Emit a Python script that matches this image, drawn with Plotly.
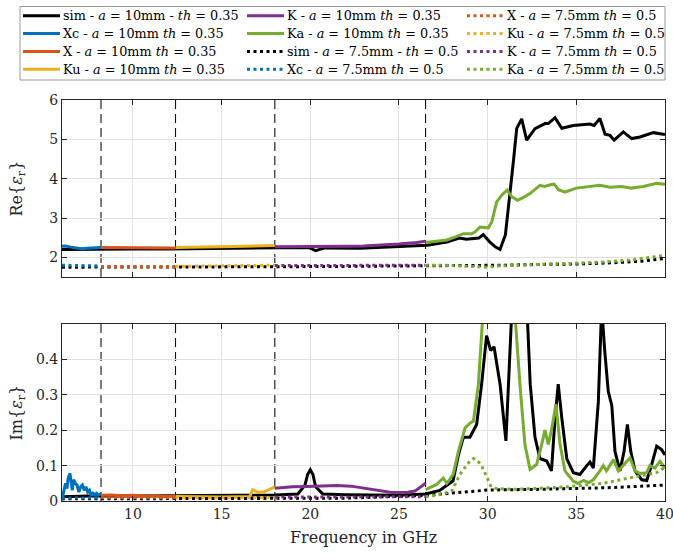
import plotly.graph_objects as go

# ---------------------------------------------------------------------------
# Measured permittivity per waveguide band (a = 10mm, th = 0.35) and the
# simulated reference, plus the a = 7.5mm / th = 0.5 sample (dotted).
# ---------------------------------------------------------------------------

# Band edges in GHz (Xc | X | Ku | K | Ka)
band_edges = [8.2, 12.4, 18.0, 26.5]

# --- simulation, a = 10mm, th = 0.35 ---------------------------------------
sim_re_f = [6.0, 8.0, 10.0, 12.0, 14.0, 16.0, 18.0, 19.5, 19.9, 20.3, 20.8, 22.8, 25.0,
            26.6, 27.7, 28.4, 28.8, 29.5, 29.75, 30.1, 30.45, 30.7, 31.0, 31.26, 31.45,
            31.64, 31.92, 32.2, 32.67, 33.23, 33.42, 33.8, 34.18, 34.83, 35.77, 36.0,
            36.33, 36.62, 36.9, 37.13, 37.65, 38.12, 38.59, 39.34, 40.0]
sim_re = [2.20, 2.21, 2.21, 2.21, 2.22, 2.23, 2.24, 2.25, 2.25, 2.17, 2.24, 2.23, 2.27,
          2.31, 2.39, 2.49, 2.46, 2.49, 2.58, 2.40, 2.26, 2.20, 2.57, 3.58, 4.43,
          5.28, 5.52, 4.98, 5.27, 5.40, 5.40, 5.55, 5.28, 5.35, 5.39, 5.35,
          5.53, 5.13, 5.10, 4.98, 5.19, 5.02, 5.06, 5.17, 5.12]
sim_im_f = [6.0, 7.0, 8.0, 10.0, 12.0, 14.0, 16.0, 18.0, 19.3, 19.7, 19.85, 20.0, 20.15,
            20.3, 20.7, 22.0, 24.0, 25.0, 26.5, 27.3, 28.05, 28.35, 28.63, 29.0, 29.38,
            29.66, 29.94, 30.17, 30.36, 30.7, 31.03, 31.26, 31.6, 32.0, 32.4, 32.67,
            32.95, 33.33, 33.6, 33.8, 33.98, 34.18, 34.46, 34.83, 35.2, 35.59, 35.77,
            35.96, 36.24, 36.43, 36.6, 36.8, 37.0, 37.18, 37.46, 37.69, 37.88, 38.07,
            38.31, 38.69, 38.97, 39.25, 39.53, 39.81, 40.0]
sim_im = [0.012, 0.014, 0.015, 0.014, 0.014, 0.015, 0.016, 0.017, 0.020, 0.045, 0.075,
          0.088, 0.075, 0.040, 0.020, 0.018, 0.016, 0.016, 0.020, 0.030, 0.057, 0.130,
          0.180, 0.180, 0.216, 0.330, 0.467, 0.425, 0.436, 0.330, 0.170, 0.420, 0.800,
          0.800, 0.330, 0.180, 0.120, 0.113, 0.085, 0.235, 0.330, 0.235, 0.120, 0.080,
          0.075, 0.100, 0.110, 0.093, 0.280, 0.550, 0.425, 0.310, 0.270, 0.140, 0.085,
          0.140, 0.216, 0.140, 0.085, 0.060, 0.058, 0.103, 0.155, 0.145, 0.130]

# --- Xc band, a = 10mm ------------------------------------------------------
xc_re_f = [6.0, 6.2, 6.5, 6.8, 7.1, 7.4, 7.7, 8.0, 8.2]
xc_re = [2.28, 2.29, 2.26, 2.24, 2.22, 2.23, 2.24, 2.25, 2.25]
xc_im_f = [6.0, 6.1, 6.2, 6.28, 6.35, 6.45, 6.52, 6.58, 6.65, 6.75, 6.85, 6.95, 7.05,
           7.15, 7.25, 7.35, 7.45, 7.55, 7.65, 7.75, 7.85, 7.95, 8.05, 8.2]
xc_im = [0.005, 0.030, 0.050, 0.035, 0.065, 0.078, 0.055, 0.030, 0.060, 0.050, 0.045,
         0.025, 0.040, 0.045, 0.030, 0.040, 0.025, 0.030, 0.015, 0.022, 0.018, 0.022,
         0.017, 0.020]

# --- X band, a = 10mm -------------------------------------------------------
x_re_f = [8.2, 9.0, 10.0, 11.0, 12.0, 12.4]
x_re = [2.25, 2.25, 2.24, 2.24, 2.24, 2.24]
x_im_f = [8.2, 8.8, 9.4, 10.0, 10.6, 11.2, 11.8, 12.4]
x_im = [0.016, 0.017, 0.015, 0.016, 0.014, 0.015, 0.013, 0.014]

# --- Ku band, a = 10mm ------------------------------------------------------
ku_re_f = [12.4, 13.0, 14.0, 15.0, 16.0, 17.0, 17.5, 18.0]
ku_re = [2.25, 2.25, 2.26, 2.27, 2.28, 2.29, 2.30, 2.30]
ku_im_f = [12.4, 13.0, 14.0, 15.0, 16.0, 16.6, 16.75, 16.9, 17.1, 17.4, 17.7, 18.0]
ku_im = [0.013, 0.012, 0.012, 0.011, 0.012, 0.013, 0.032, 0.028, 0.024, 0.026, 0.032, 0.040]

# --- K band, a = 10mm -------------------------------------------------------
k_re_f = [18.0, 20.0, 22.0, 23.0, 24.0, 25.0, 26.0, 26.5]
k_re = [2.27, 2.27, 2.28, 2.29, 2.31, 2.34, 2.38, 2.41]
k_im_f = [18.0, 18.5, 19.0, 19.8, 20.5, 21.5, 22.3, 22.8, 23.5, 24.0, 24.5, 25.0, 25.5,
          25.9, 26.2, 26.5]
k_im = [0.036, 0.038, 0.040, 0.041, 0.043, 0.044, 0.042, 0.038, 0.032, 0.027, 0.025,
        0.024, 0.025, 0.028, 0.038, 0.050]

# --- Ka band, a = 10mm ------------------------------------------------------
ka_re_f = [26.5, 27.0, 27.7, 28.2, 28.63, 29.1, 29.3, 29.57, 30.04, 30.23, 30.51, 30.79,
           31.1, 31.36, 31.68, 32.0, 32.39, 32.95, 33.2, 33.6, 33.75, 34.0, 34.36, 35.0,
           35.77, 36.33, 36.9, 37.56, 38.1, 38.78, 39.53, 40.0]
ka_re = [2.38, 2.40, 2.44, 2.52, 2.60, 2.60, 2.65, 2.77, 2.75, 2.90, 3.41, 3.58,
         3.71, 3.54, 3.45, 3.52, 3.62, 3.83, 3.80, 3.85, 3.86, 3.72, 3.66, 3.76,
         3.80, 3.83, 3.78, 3.80, 3.76, 3.80, 3.88, 3.86]
ka_im_f = [26.5, 27.1, 27.5, 27.7, 28.06, 28.35, 28.73, 29.0, 29.2, 29.48, 29.76, 30.2,
           31.0, 31.55, 31.82, 32.1, 32.39, 32.76, 33.05, 33.23, 33.42, 33.6, 33.85,
           34.08, 34.36, 34.83, 35.1, 35.4, 35.7, 35.96, 36.33, 36.52, 36.7, 37.1, 37.37,
           37.65, 38.03, 38.31, 38.59, 38.97, 39.15, 39.43, 39.72, 40.0]
ka_im = [0.032, 0.046, 0.065, 0.050, 0.075, 0.140, 0.207, 0.220, 0.226, 0.330, 0.550,
         1.000, 1.000, 0.520, 0.330, 0.160, 0.089, 0.103, 0.160, 0.200, 0.160, 0.200,
         0.273, 0.160, 0.085, 0.056, 0.050, 0.058, 0.052, 0.060, 0.085, 0.100, 0.085,
         0.117, 0.085, 0.100, 0.122, 0.085, 0.078, 0.080, 0.100, 0.093, 0.112, 0.093]

# --- a = 7.5mm, th = 0.5 (dotted) ------------------------------------------
sim2_re_f = [6.0, 10.0, 14.0, 18.0, 22.0, 26.5, 29.0, 31.0, 33.0, 35.0, 37.0, 38.6, 40.0]
sim2_re = [1.75, 1.75, 1.76, 1.76, 1.77, 1.78, 1.79, 1.80, 1.82, 1.83, 1.86, 1.90, 1.97]
sim2_im_f = [6.0, 10.0, 14.0, 18.0, 22.0, 26.5, 28.0, 29.5, 30.0, 33.0, 35.0, 37.0, 40.0]
sim2_im = [0.006, 0.006, 0.007, 0.007, 0.008, 0.016, 0.022, 0.030, 0.031, 0.033, 0.035,
           0.038, 0.045]

xc2_re_f = [6.0, 6.6, 7.2, 7.8, 8.2]
xc2_re = [1.80, 1.79, 1.78, 1.78, 1.78]
xc2_im_f = [6.0, 6.6, 7.2, 7.8, 8.2]
xc2_im = [0.008, 0.009, 0.008, 0.009, 0.008]

x2_re_f = [8.2, 9.5, 11.0, 12.4]
x2_re = [1.76, 1.76, 1.76, 1.76]
x2_im_f = [8.2, 9.5, 11.0, 12.4]
x2_im = [0.009, 0.009, 0.009, 0.009]

ku2_re_f = [12.4, 14.0, 16.0, 18.0]
ku2_re = [1.77, 1.78, 1.79, 1.80]
ku2_im_f = [12.4, 14.0, 16.0, 18.0]
ku2_im = [0.009, 0.009, 0.010, 0.010]

k2_re_f = [18.0, 20.0, 22.0, 24.0, 26.5]
k2_re = [1.79, 1.79, 1.79, 1.79, 1.80]
k2_im_f = [18.0, 20.0, 22.0, 24.0, 26.5]
k2_im = [0.011, 0.011, 0.012, 0.011, 0.012]

ka2_re_f = [26.5, 27.5, 28.5, 29.5, 30.0, 30.5, 31.5, 33.0, 35.0, 36.5, 38.0, 39.0, 40.0]
ka2_re = [1.80, 1.80, 1.78, 1.76, 1.75, 1.78, 1.80, 1.82, 1.85, 1.88, 1.93, 1.99, 2.05]
ka2_im_f = [26.5, 27.5, 28.0, 28.44, 28.8, 29.0, 29.2, 29.45, 29.66, 30.0, 30.2, 30.5,
            31.5, 32.5, 33.5, 34.5, 35.5, 36.5, 37.5, 38.5, 39.5, 40.0]
ka2_im = [0.012, 0.020, 0.030, 0.075, 0.100, 0.113, 0.120, 0.112, 0.100, 0.065, 0.040,
          0.035, 0.033, 0.035, 0.037, 0.040, 0.045, 0.050, 0.060, 0.070, 0.080, 0.095]

# Axis ticks
x_ticks = [10, 15, 20, 25, 30, 35, 40]
re_ticks = [2, 3, 4, 5, 6]
im_ticks = [0, 0.1, 0.2, 0.3, 0.4]
im_tick_text = ["0", "0.1", "0.2", "0.3", "0.4"]

# ---------------------------------------------------------------------------
FONT = "DejaVu Serif"
C_SIM, C_XC, C_X, C_KU, C_K, C_KA = "#000000", "#0072BD", "#D95319", "#EDB120", "#7E2F8E", "#77AC30"
DOT = "3px,3.5px"

SOLID_LBL = "{b} - <i>a</i> = 10mm <i>th</i> = 0.35"
DOT_LBL = "{b} - <i>a</i> = 7.5mm <i>th</i> = 0.5"

# name, colour, dash, re_f, re, im_f, im, (legend column, legend row)
series = [
    ("sim - <i>a</i> = 10mm - <i>th</i> = 0.35", C_SIM, "solid", sim_re_f, sim_re, sim_im_f, sim_im, (0, 0)),
    (SOLID_LBL.format(b="Xc"), C_XC, "solid", xc_re_f, xc_re, xc_im_f, xc_im, (0, 1)),
    (SOLID_LBL.format(b="X"), C_X, "solid", x_re_f, x_re, x_im_f, x_im, (0, 2)),
    (SOLID_LBL.format(b="Ku"), C_KU, "solid", ku_re_f, ku_re, ku_im_f, ku_im, (0, 3)),
    (SOLID_LBL.format(b="K"), C_K, "solid", k_re_f, k_re, k_im_f, k_im, (1, 0)),
    (SOLID_LBL.format(b="Ka"), C_KA, "solid", ka_re_f, ka_re, ka_im_f, ka_im, (1, 1)),
    ("sim - <i>a</i> = 7.5mm - <i>th</i> = 0.5", C_SIM, DOT, sim2_re_f, sim2_re, sim2_im_f, sim2_im, (1, 2)),
    (DOT_LBL.format(b="Xc"), C_XC, DOT, xc2_re_f, xc2_re, xc2_im_f, xc2_im, (1, 3)),
    (DOT_LBL.format(b="X"), C_X, DOT, x2_re_f, x2_re, x2_im_f, x2_im, (2, 0)),
    (DOT_LBL.format(b="Ku"), C_KU, DOT, ku2_re_f, ku2_re, ku2_im_f, ku2_im, (2, 1)),
    (DOT_LBL.format(b="K"), C_K, DOT, k2_re_f, k2_re, k2_im_f, k2_im, (2, 2)),
    (DOT_LBL.format(b="Ka"), C_KA, DOT, ka2_re_f, ka2_re, ka2_im_f, ka2_im, (2, 3)),
]

W, H = 673, 554
R_MARGIN = 8
PW = W - R_MARGIN  # plot-area width in pixels


def px(xpix):
    return xpix / PW


def py(ypix):
    return 1 - ypix / H


fig = go.Figure()
for name, color, dash, rf, rv, imf, imv, _ in series:
    line = dict(color=color, width=3, dash=dash)
    fig.add_trace(go.Scatter(x=rf, y=rv, mode="lines", name=name, line=line,
                             xaxis="x", yaxis="y", showlegend=False))
    fig.add_trace(go.Scatter(x=imf, y=imv, mode="lines", name=name, line=line,
                             xaxis="x2", yaxis="y2", showlegend=False))

x_dom = [px(62), px(665)]
top_dom = [py(277), py(100)]
bot_dom = [py(501), py(324)]

axis_common = dict(
    showline=True, linecolor="#262626", linewidth=1, mirror="ticks",
    ticks="inside", ticklen=5, tickcolor="#262626",
    showgrid=True, gridcolor="#e1e1e1", gridwidth=1, zeroline=False,
    tickfont=dict(family=FONT, size=14, color="#262626"),
    automargin=False, ticklabeloverflow="allow",
)

fig.update_layout(
    width=W, height=H,
    margin=dict(l=0, r=R_MARGIN, t=0, b=0),
    paper_bgcolor="white", plot_bgcolor="white",
    showlegend=False,
    xaxis=dict(domain=x_dom, range=[6, 40], anchor="y", tickvals=x_ticks,
               showticklabels=False, **axis_common),
    yaxis=dict(domain=top_dom, range=[1.5, 6], anchor="x", tickvals=re_ticks,
               **axis_common),
    xaxis2=dict(domain=x_dom, range=[6, 40], anchor="y2", tickvals=x_ticks,
                **axis_common),
    yaxis2=dict(domain=bot_dom, range=[0, 0.5], anchor="x2", tickvals=im_ticks,
                ticktext=im_tick_text, **axis_common),
)

# Band separators in both panels
shapes = []
for xa, ya in (("x", "y domain"), ("x2", "y2 domain")):
    for edge in band_edges:
        shapes.append(dict(type="line", xref=xa, yref=ya, x0=edge, x1=edge, y0=0, y1=1,
                           line=dict(color="#111111", width=1.1, dash="9px,5px"),
                           layer="below"))

# Legend: three columns of four entries inside a grey frame
shapes.append(dict(type="rect", xref="paper", yref="paper",
                   x0=px(20), x1=px(665), y0=py(80), y1=py(6.5),
                   line=dict(color="#9a9a9a", width=1), fillcolor="white", layer="above"))
col_x = [23, 247, 467]
row_y = [15.7, 33.6, 51.4, 69.2]
sample_len = 37
annotations = []
for name, color, dash, *_rest, (col, row) in series:
    x0 = col_x[col]
    yy = py(row_y[row])
    shapes.append(dict(type="line", xref="paper", yref="paper",
                       x0=px(x0), x1=px(x0 + sample_len), y0=yy, y1=yy,
                       line=dict(color=color, width=3, dash=dash), layer="above"))
    annotations.append(dict(text=name, xref="paper", yref="paper",
                            x=px(x0 + sample_len + 1), y=yy, showarrow=False,
                            xanchor="left", yanchor="middle",
                            font=dict(family=FONT, size=12.8, color="black")))

title_font = dict(family=FONT, size=16, color="#262626")
annotations += [
    dict(text="Re{<i>ε</i><sub>r</sub>}", xref="paper", yref="paper",
         x=px(17), y=py(188.5), textangle=-90, showarrow=False,
         xanchor="center", yanchor="middle", font=title_font),
    dict(text="Im{<i>ε</i><sub>r</sub>}", xref="paper", yref="paper",
         x=px(17), y=py(412.5), textangle=-90, showarrow=False,
         xanchor="center", yanchor="middle", font=title_font),
    dict(text="Frequency in GHz", xref="paper", yref="paper",
         x=px(363), y=py(537), showarrow=False,
         xanchor="center", yanchor="middle", font=title_font),
]
fig.update_layout(shapes=shapes, annotations=annotations)

fig.write_html("out.html")
